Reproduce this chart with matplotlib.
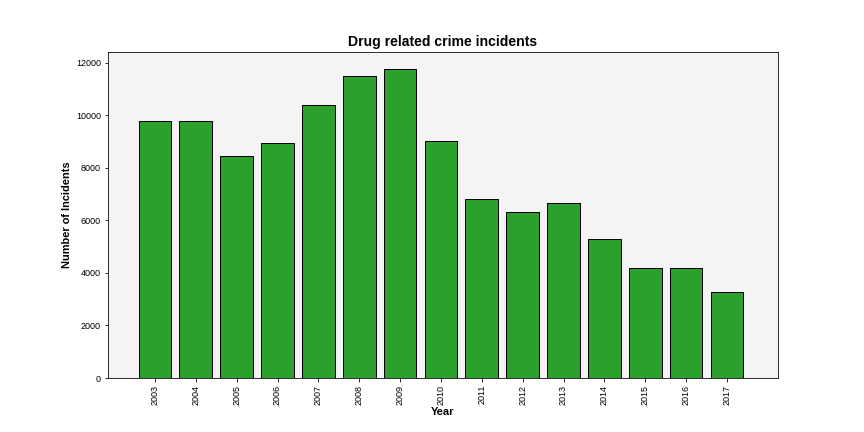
import matplotlib.pyplot as plt

plt.rcParams['font.family'] = ['Liberation Sans', 'DejaVu Sans']

years = list(range(2003, 2018))
incidents = [9770, 9770, 8440, 8930, 10370, 11470, 11770, 9010,
             6810, 6320, 6660, 5300, 4200, 4200, 3255]

fig = plt.figure(figsize=(12, 6), dpi=72)
ax = fig.add_axes([108 / 864, 1 - 378 / 432, (778 - 108) / 864, (378 - 52) / 432])
ax.set_facecolor('#f4f4f4')
ax.bar(years, incidents, width=0.8, color='#2ca02c', edgecolor='black')
ax.set_xticks(years)
ax.set_xticklabels([str(y) for y in years], rotation=90)
ax.set_xlim(2001.85, 2018.25)
ax.set_ylim(0, 12400)
ax.tick_params(labelsize=9)
ax.set_xlabel('Year', fontsize=11, fontweight='bold', labelpad=2)
ax.set_ylabel('Number of Incidents', fontsize=11, fontweight='bold')
ax.set_title('Drug related crime incidents', fontsize=14, fontweight='bold')

fig.savefig('out.png', dpi=72)
